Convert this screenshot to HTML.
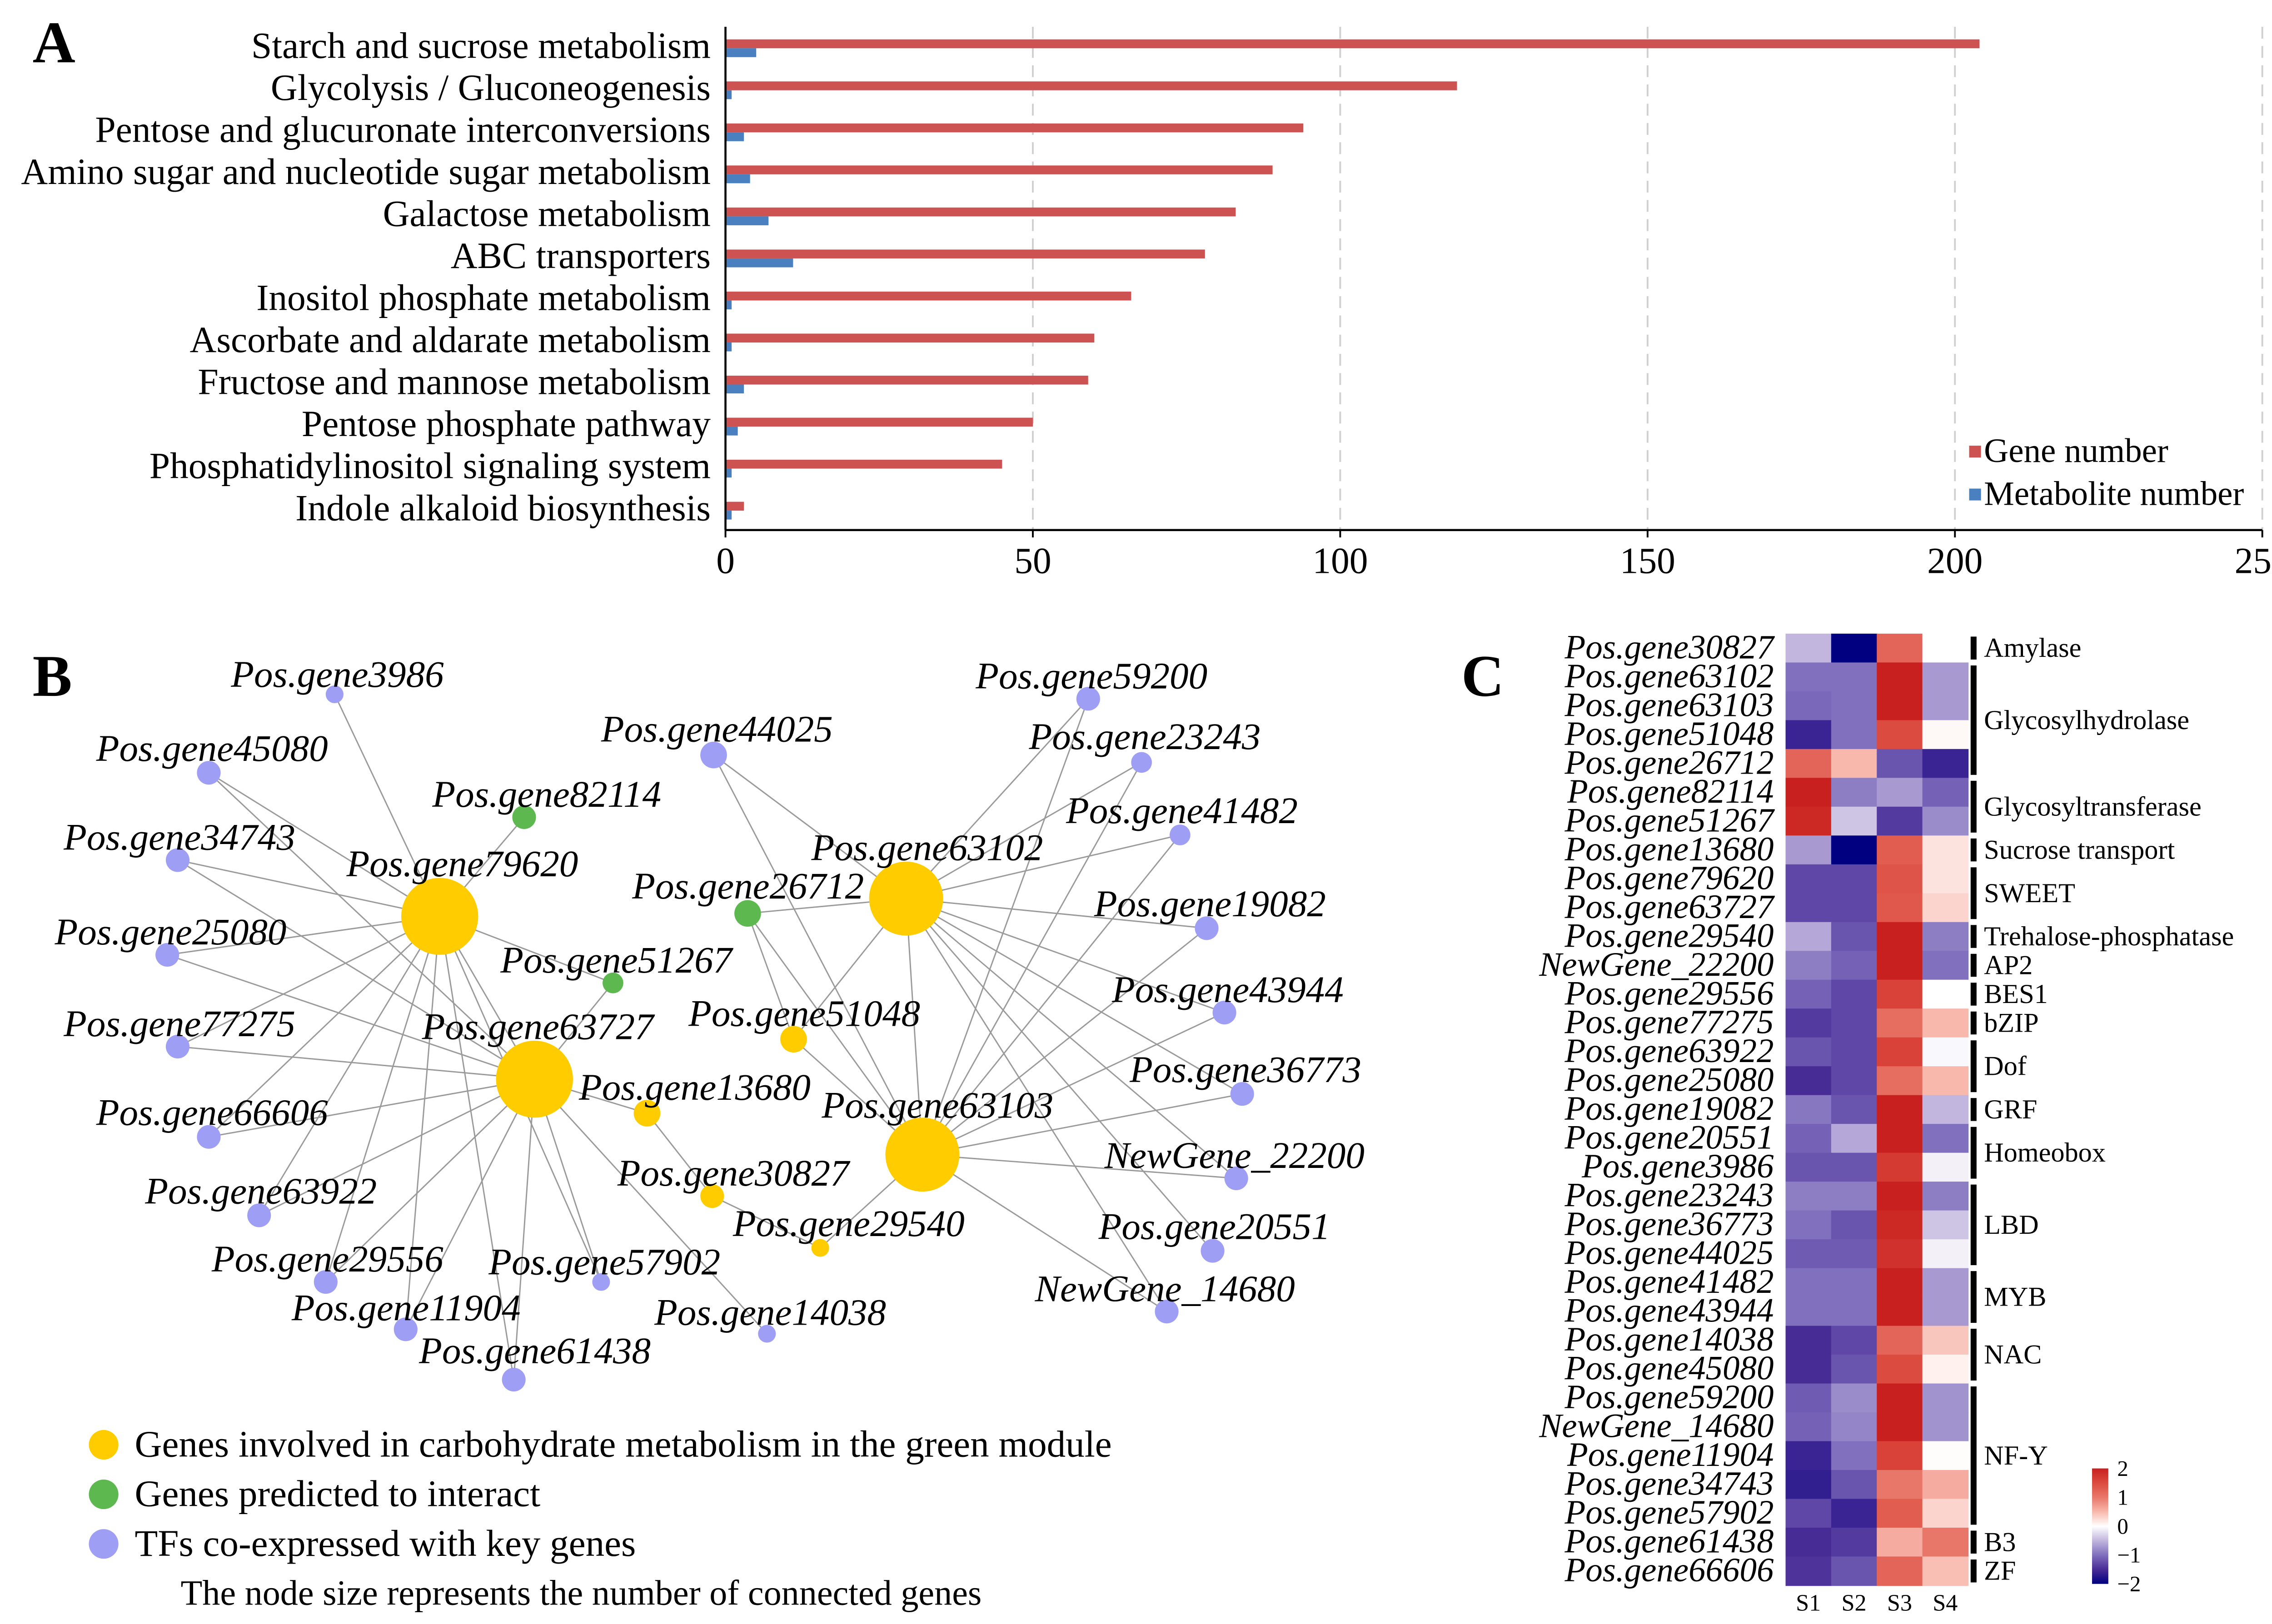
<!DOCTYPE html>
<html><head><meta charset="utf-8"><style>
html,body{margin:0;padding:0;background:#fff}
svg{display:block}
text{font-family:"Liberation Serif",serif}
</style></head><body>
<svg id="fig" width="5109" height="3575" viewBox="0 0 1568 1097" xmlns="http://www.w3.org/2000/svg">
<rect width="1568" height="1097" fill="#fff"/>
<text x="22" y="42" font-size="40" font-weight="bold">A</text>
<text x="22" y="470" font-size="40" font-weight="bold">B</text>
<text x="987" y="470" font-size="40" font-weight="bold">C</text>
<g id="barChart"></g>
<g id="network"></g>
<g id="heatmap"></g>
</svg>
<script>
const NS="http://www.w3.org/2000/svg";
function mk(tag,attrs,parent,txt){const e=document.createElementNS(NS,tag);for(const k in attrs)e.setAttribute(k,attrs[k]);if(txt!==undefined)e.textContent=txt;parent.appendChild(e);return e;}

// ---------- Panel A data ----------
const pathways=["Starch and sucrose metabolism","Glycolysis / Gluconeogenesis","Pentose and glucuronate interconversions","Amino sugar and nucleotide sugar metabolism","Galactose metabolism","ABC transporters","Inositol phosphate metabolism","Ascorbate and aldarate metabolism","Fructose and mannose metabolism","Pentose phosphate pathway","Phosphatidylinositol signaling system","Indole alkaloid biosynthesis"];
const geneNumbers=[204,119,94,89,83,78,66,60,59,50,45,3];
const metaboliteNumbers=[5,1,3,4,7,11,1,1,3,2,1,1];
const xTicks=[0,50,100,150,200,250];

(function(){
const g=document.getElementById('barChart');
const x0=490,x1=1528,top=18,bottom=358,rowTop=31,rowStep=28.4;
const xs=v=>x0+(v-0)/(250-0)*(x1-x0);
const ys=i=>rowTop+i*rowStep;
xTicks.forEach(t=>{
 if(t>0){const l=mk('line',{x1:xs(t),x2:xs(t),y1:top,y2:bottom,stroke:'#d0d0d0','stroke-width':1.2,'stroke-dasharray':'8,5'},g);
 
 }
 const tk=mk('line',{x1:xs(t),x2:xs(t),y1:bottom,y2:bottom+5,stroke:'#000','stroke-width':1.2},g);
 
 
 const tl=mk('text',{x:xs(t),y:bottom+29,'font-size':25,'text-anchor':'middle'},g,String(t));
 
 
});
pathways.forEach((p,i)=>{
 const y=ys(i);
 const r=mk('rect',{x:x0,y:y-4.5,width:xs(geneNumbers[i])-x0,height:6,fill:'#cd5353'},g);
 
 
 const b=mk('rect',{x:x0,y:y+1.5,width:xs(metaboliteNumbers[i])-x0,height:6,fill:'#4a7fc0'},g);
 
 
 const t=mk('text',{x:480,y:y+8,'font-size':25,'text-anchor':'end'},g,p);
 
 
});
const ya=mk('line',{x1:x0,x2:x0,y1:top,y2:bottom,stroke:'#000','stroke-width':1.4},g);


const xa=mk('line',{x1:x0,x2:x1,y1:bottom,y2:bottom,stroke:'#000','stroke-width':1.4},g);


const l1=mk('rect',{x:1330,y:301,width:8,height:8,fill:'#cd5353'},g);


const l1t=mk('text',{x:1340,y:312,'font-size':23},g,'Gene number');


const l2=mk('rect',{x:1330,y:330,width:8,height:8,fill:'#4a7fc0'},g);


const l2t=mk('text',{x:1340,y:341,'font-size':23},g,'Metabolite number');


})();

// ---------- Panel B network ----------
const nodeNames=["Pos.gene79620","Pos.gene63727","Pos.gene63102","Pos.gene63103","Pos.gene51048","Pos.gene13680","Pos.gene30827","Pos.gene29540","Pos.gene82114","Pos.gene26712","Pos.gene51267","Pos.gene3986","Pos.gene45080","Pos.gene34743","Pos.gene25080","Pos.gene77275","Pos.gene66606","Pos.gene63922","Pos.gene29556","Pos.gene11904","Pos.gene61438","Pos.gene57902","Pos.gene14038","Pos.gene44025","Pos.gene59200","Pos.gene23243","Pos.gene41482","Pos.gene19082","Pos.gene43944","Pos.gene36773","NewGene_22200","Pos.gene20551","NewGene_14680"];
const nodeTypes=["y","y","y","y","y","y","y","y","g","g","g","p","p","p","p","p","p","p","p","p","p","p","p","p","p","p","p","p","p","p","p","p","p"];
const nodeX=[297,361,612,623,536,437,481,554,354,505,414,226,141,120,113,120,141,175,220,274,347,406,518,482,735,771,797,815,827,839,835,819,788];
const nodeY=[619,729,607,780,702,752,808,843,552,617,664,469,522,581,645,707,768,821,866,898,932,866,901,510,472,515,564,627,684,739,796,845,886];
const nodeR=[26,26,25,25,9,9,8,6,8,9,7,6,8,8,8,8,8,8,8,8,8,6,6,9,8,7,7,8,8,8,8,8,8];
const labelX=[234,285,548,555,465,391,417,495,292,427,338,156,65,43,37,43,65,98,143,197,283,330,442,406,659,695,720,739,751,763,746,742,699];
const labelY=[591,701,580,754,692,742,800,834,544,606,656,463,513,573,637,699,759,812,858,891,920,860,894,500,464,505,555,618,676,730,788,836,878];
const edgeFrom=[0,0,0,0,0,0,0,0,0,0,0,0,0,0, 1,1,1,1,1,1,1,1,1,1,1,1,1, 2,2,2,2,2,2,2,2,2,2,2,2,2, 3,3,3,3,3,3,3,3,3,3,3,9,9,5,6];
const edgeTo=  [11,12,13,14,15,16,17,18,19,20,8,10,1,21, 12,13,14,15,16,17,18,19,20,21,22,5,10, 23,24,25,26,27,28,29,30,31,32,9,4,3, 23,24,25,26,28,29,30,4,32,27,7,4,3,6,7];
const legendLabels=["Genes involved in carbohydrate metabolism in the green module","Genes predicted to interact","TFs co-expressed with key genes"];

(function(){
const g=document.getElementById('network');
const col={y:'#ffcc00',g:'#5db84f',p:'#9e9ef5'};
edgeFrom.forEach((a,i)=>{
 const b=edgeTo[i];
 const l=mk('line',{x1:nodeX[a],y1:nodeY[a],x2:nodeX[b],y2:nodeY[b],stroke:'#9a9a9a','stroke-width':0.9},g);
 
 
});
nodeNames.forEach((n,i)=>{
 const c=mk('circle',{cx:nodeX[i],cy:nodeY[i],r:nodeR[i],fill:col[nodeTypes[i]]},g);
 
 
});
nodeNames.forEach((n,i)=>{
 const t=mk('text',{x:labelX[i],y:labelY[i]+1,'font-size':25.5,'font-style':'italic'},g,n);
 
 
});
const lc=[col.y,col.g,col.p];
legendLabels.forEach((s,i)=>{
 const y=976+i*33.5;
 const c=mk('circle',{cx:70,cy:y,r:10,fill:lc[i]},g);
 
 
 const t=mk('text',{x:91,y:y+8,'font-size':25.5},g,s);
 
 
});
const nt=mk('text',{x:122,y:1084,'font-size':24},g,'The node size represents the number of connected genes');


})();

// ---------- Panel C heatmap ----------
const hmGenes=["Pos.gene30827","Pos.gene63102","Pos.gene63103","Pos.gene51048","Pos.gene26712","Pos.gene82114","Pos.gene51267","Pos.gene13680","Pos.gene79620","Pos.gene63727","Pos.gene29540","NewGene_22200","Pos.gene29556","Pos.gene77275","Pos.gene63922","Pos.gene25080","Pos.gene19082","Pos.gene20551","Pos.gene3986","Pos.gene23243","Pos.gene36773","Pos.gene44025","Pos.gene41482","Pos.gene43944","Pos.gene14038","Pos.gene45080","Pos.gene59200","NewGene_14680","Pos.gene11904","Pos.gene34743","Pos.gene57902","Pos.gene61438","Pos.gene66606"];
const hmSamples=["S1","S2","S3","S4"];
const hmS1=[-0.5,-1,-1.05,-1.6,1.2,2,1.9,-0.7,-1.3,-1.3,-0.6,-0.9,-1.1,-1.4,-1.2,-1.5,-0.95,-1.1,-1.2,-0.9,-1,-1.15,-1,-1,-1.5,-1.5,-1.15,-1.1,-1.6,-1.65,-1.3,-1.5,-1.45];
const hmS2=[-2,-1,-1,-1,0.5,-0.9,-0.4,-2,-1.3,-1.3,-1.2,-1.1,-1.3,-1.3,-1.3,-1.3,-1.2,-0.6,-1.2,-0.9,-1.2,-1.15,-1,-1,-1.3,-1.2,-0.8,-0.85,-1,-1.2,-1.6,-1.4,-1.2];
const hmS3=[1.2,2,2,1.5,-1.2,-0.7,-1.4,1.3,1.4,1.35,2,2,1.6,1.1,1.6,1.1,2,2,1.7,2,1.9,1.8,2,2,1.2,1.5,2,2,1.6,1,1.3,0.6,1.2];
const hmS4=[0,-0.7,-0.7,0.05,-1.6,-1.1,-0.8,0.2,0.2,0.3,-0.9,-1,0,0.5,-0.05,0.5,-0.5,-1,-0.1,-0.9,-0.4,-0.1,-0.7,-0.7,0.4,0.1,-0.75,-0.75,0.02,0.6,0.3,1,0.45];
const groupNames=["Amylase","Glycosylhydrolase","Glycosyltransferase","Sucrose transport","SWEET","Trehalose-phosphatase","AP2","BES1","bZIP","Dof","GRF","Homeobox","LBD","MYB","NAC","NF-Y","B3","ZF"];
const groupSizes=[1,4,2,1,2,1,1,1,1,2,1,2,3,2,2,5,1,1];
const cbTicks=[2,1,0,-1,-2];

(function(){
const g=document.getElementById('heatmap');
const hx0=1206,hy0=428,cw=30.8,rh=643/33;
const stops=[[-2,[0,0,128]],[-1.5,[72,44,150]],[-1,[128,112,190]],[-0.5,[194,182,222]],[0,[255,255,255]],[0.5,[248,184,172]],[1,[232,119,106]],[1.5,[220,75,63]],[2,[200,32,31]]];
function color(v){v=Math.max(-2,Math.min(2,v));for(let i=0;i<stops.length-1;i++){const[a,ca]=stops[i],[b,cb]=stops[i+1];if(v<=b){const t=(v-a)/(b-a);return 'rgb('+ca.map((c,k)=>Math.round(c+(cb[k]-c)*t)).join(',')+')';}}return 'rgb(200,32,31)';}
const cols=[hmS1,hmS2,hmS3,hmS4];
hmGenes.forEach((gn,r)=>{
 cols.forEach((arr,c)=>{
  const cell=mk('rect',{x:hx0+c*cw,y:hy0+r*rh,width:cw+0.4,height:rh+0.4,fill:color(arr[r])},g);
  
  
 });
 const t=mk('text',{x:1198,y:hy0+r*rh+rh/2+7,'font-size':23,'font-style':'italic','text-anchor':'end'},g,gn);
 
 
});
hmSamples.forEach((s,c)=>{
 const t=mk('text',{x:hx0+c*cw+cw/2,y:1088,'font-size':16,'text-anchor':'middle'},g,s);
 
 
});
let start=0;
groupNames.forEach((n,i)=>{
 const y1=hy0+start*rh+2,y2=hy0+(start+groupSizes[i])*rh-2;
 const b=mk('rect',{x:1331,y:y1,width:4,height:y2-y1,fill:'#000'},g);
 
 
 const t=mk('text',{x:1340,y:(y1+y2)/2+6,'font-size':18.5},g,n);
 
 
 start+=groupSizes[i];
});
const cbx=1413,cbTop=992,cbBot=1070;
const defs=mk('defs',{},g);
const lg=mk('linearGradient',{id:'cbg',x1:0,y1:0,x2:0,y2:1},defs);
stops.slice().reverse().forEach((s,i)=>{mk('stop',{offset:(i/(stops.length-1)),'stop-color':'rgb('+s[1].join(',')+')'},lg);});
const cb=mk('rect',{x:cbx,y:cbTop,width:11,height:cbBot-cbTop,fill:'url(#cbg)'},g);


cbTicks.forEach(v=>{
 const y=cbTop+(2-v)/4*(cbBot-cbTop);
 const t=mk('text',{x:1430,y:y+5,'font-size':15},g,v<0?'\u2212'+(-v):String(v));
 
 
});
})();
</script>
</body></html>
